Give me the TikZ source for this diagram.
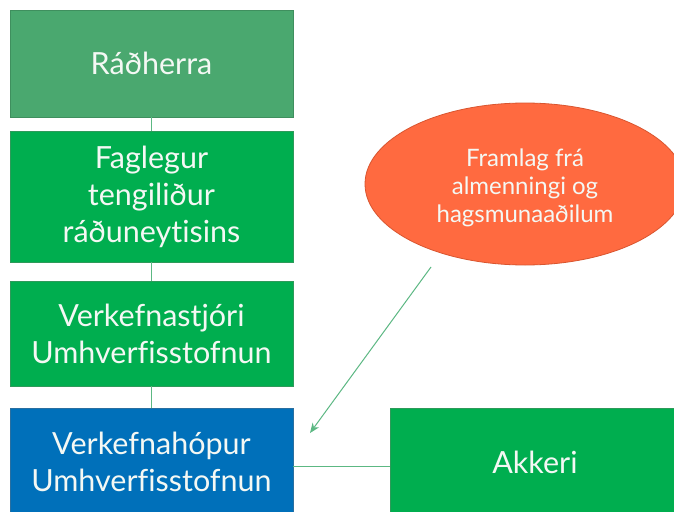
\documentclass[tikz,border=0pt]{standalone}
\usepackage{fontspec}
\setmainfont{Lato}[Ligatures={NoCommon}]
\usetikzlibrary{shapes.geometric,arrows.meta}
\definecolor{gA}{HTML}{4AA86F}
\definecolor{gAb}{HTML}{3F8F5E}
\definecolor{gB}{HTML}{00AE4F}
\definecolor{gBb}{HTML}{2E9A5A}
\definecolor{bl}{HTML}{0070BA}
\definecolor{blb}{HTML}{2A6FA0}
\definecolor{orng}{HTML}{FF6A40}
\definecolor{orngb}{HTML}{D9552F}
\definecolor{lnk}{HTML}{5CB883}
\definecolor{txt}{HTML}{F4F8F4}
\tikzset{
  box/.style={rectangle, draw=gBb, line width=0.8pt, fill=gB, text=txt, minimum width=283pt, align=center,
     font=\fontsize{30.5}{37}\selectfont, inner sep=0pt},
  conn/.style={draw=lnk, line width=1pt},
}
\begin{document}
\begin{tikzpicture}[x=1pt,y=-1pt]
\useasboundingbox (0,0) rectangle (674,511);
\clip (0,0) rectangle (674,511);
\fill[white] (0,0) rectangle (674,511);
\node[box, fill=gA, draw=gAb, minimum height=107pt] (radh) at (151.5,63.5) {Ráðherra};
\node[box, minimum height=131pt] (fag) at (151.5,196.5) {Faglegur\\tengiliður\\ráðuneytisins};
\node[box, minimum height=105pt] (stj) at (151.5,333.5) {Verkefnastjóri\\Umhverfisstofnun};
\node[box, fill=bl, draw=blb, minimum height=108pt] (hop) at (151.5,462) {Verkefnahópur\\Umhverfisstofnun};
\node[box, minimum height=108pt, minimum width=290pt] (akk) at (535,462) {Akkeri};
\node[ellipse, draw=orngb, line width=0.8pt, fill=orng, minimum width=320pt, minimum height=162pt, inner sep=0pt] (ell) at (525,184) {};
\node[text=txt, align=center, font=\fontsize{24}{28}\selectfont, inner sep=0pt] (elltxt) at ([yshift=-4pt]ell.center) {Framlag frá\\almenningi og\\hagsmunaaðilum};
\draw[conn] (radh.south) -- (fag.north);
\draw[conn] (fag.south) -- (stj.north);
\draw[conn] (stj.south) -- (hop.north);
\draw[conn] ([yshift=-4pt]hop.east) -- ([yshift=-4pt]akk.west);
\coordinate (aS) at (431,267);
\coordinate (aE) at (310,433);
\draw[conn, -{Stealth[length=10pt,width=8pt]}] (aS) -- (aE);
\end{tikzpicture}
\end{document}
